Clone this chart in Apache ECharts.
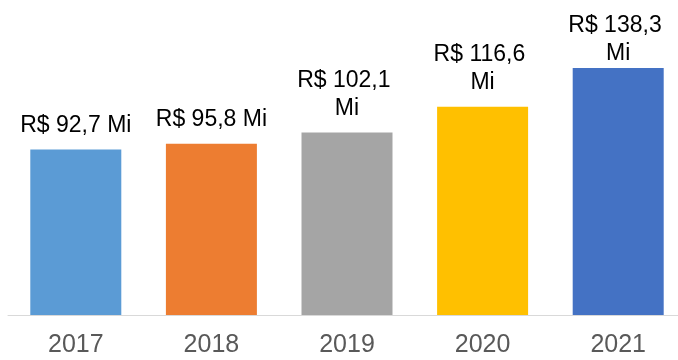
<!DOCTYPE html>
<html>
<head>
<meta charset="utf-8">
<script src="https://cdn.jsdelivr.net/npm/echarts@6/dist/echarts.min.js"></script>
<style>
  html, body { margin: 0; padding: 0; background: #fff; overflow: hidden; }
  /* canvas is a little wider than the window so the last band runs off the edge */
  #chart { width: 686px; height: 360px; }
</style>
</head>
<body>
<div id="chart"></div>
<script>
// Annual revenue, in millions of reais
const years = ['2017', '2018', '2019', '2020', '2021'];
const revenue = [92.7, 95.8, 102.1, 116.6, 138.3];
const barColors = ['#5B9BD5', '#ED7D31', '#A5A5A5', '#FFC000', '#4472C4'];

const fmt = v => 'R$ ' + v.toFixed(1).replace('.', ',') + ' Mi';

const chart = echarts.init(document.getElementById('chart'));

const data = revenue.map((v, i) => {
  const item = { value: v, itemStyle: { color: barColors[i] } };
  // the tallest bar keeps its label tucked closer so it stays inside the frame
  if (i === revenue.length - 1) item.label = { distance: 0 };
  return item;
});

chart.setOption({
  animation: false,
  grid: { left: 8, right: 0, top: 47, bottom: 45 },
  xAxis: {
    type: 'category',
    data: years,
    axisLine: { lineStyle: { color: '#D9D9D9', width: 1 } },
    axisTick: { show: false },
    axisLabel: {
      color: '#595959',
      fontFamily: 'Liberation Sans, Arial, sans-serif',
      fontSize: 25,
      margin: 18
    }
  },
  yAxis: {
    type: 'value',
    min: 0,
    max: 150,
    show: false,
    splitLine: { show: false }
  },
  series: [{
    type: 'bar',
    data: data,
    barWidth: 91,
    label: {
      show: true,
      position: 'top',
      distance: 10,
      color: '#000',
      fontFamily: 'Liberation Sans, Arial, sans-serif',
      fontSize: 23,
      lineHeight: 28,
      width: 118,
      overflow: 'break',
      align: 'center',
      formatter: p => fmt(p.value)
    }
  }]
});
</script>
</body>
</html>
